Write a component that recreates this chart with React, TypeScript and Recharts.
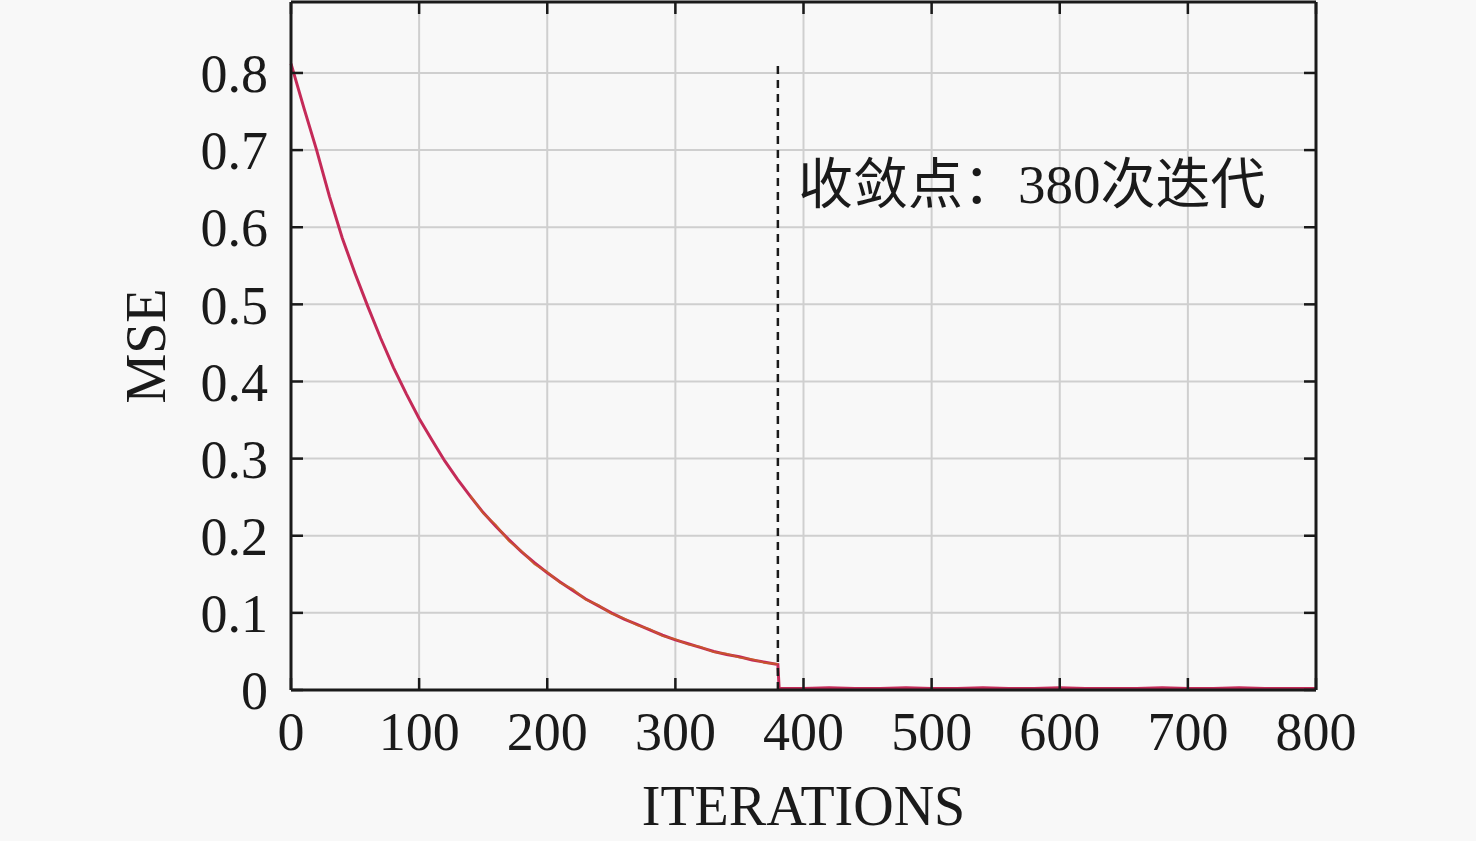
import React from 'react';
import {
    ComposedChart,
    Line,
    XAxis,
    YAxis,
    CartesianGrid,
    ReferenceLine,
    ReferenceDot,
} from 'recharts';

// iterations sampled from the curve
const iterations = [
    0, 10, 20, 30, 40, 50, 60, 70, 80, 90,
    100, 110, 120, 130, 140, 150, 160, 170, 180, 190,
    200, 210, 220, 230, 240, 250, 260, 270, 280, 290,
    300, 310, 320, 330, 340, 350, 360, 370, 380,
    381, 400, 420, 440, 460, 480, 500, 520, 540, 560, 580,
    600, 620, 640, 660, 680, 700, 720, 740, 760, 780, 800,
];

// MSE, red trace
const mseRed = [
    0.812, 0.755, 0.700, 0.640, 0.586, 0.540, 0.497, 0.456, 0.418, 0.384,
    0.352, 0.324, 0.297, 0.273, 0.251, 0.230, 0.212, 0.195, 0.179, 0.165,
    0.152, 0.140, 0.129, 0.118, 0.109, 0.100, 0.092, 0.085, 0.078, 0.071,
    0.065, 0.060, 0.055, 0.050, 0.046, 0.043, 0.039, 0.036, 0.033,
    0.002, 0.002, 0.003, 0.002, 0.002, 0.003, 0.002, 0.002, 0.003, 0.002, 0.002,
    0.003, 0.002, 0.002, 0.002, 0.003, 0.002, 0.002, 0.003, 0.002, 0.002, 0.002,
];

// MSE, orange trace: only shows through from about 140 to 380
const mseOrange = [
    null, null, null, null, null, null, null, null, null, null,
    null, null, null, null, 0.252, 0.229, 0.214, 0.193, 0.180, 0.163,
    0.153, 0.139, 0.131, 0.117, 0.110, 0.099, 0.093, 0.084, 0.079, 0.070,
    0.066, 0.059, 0.056, 0.049, 0.047, 0.042, 0.040, 0.035, 0.034,
    null, null, null, null, null, null, null, null, null, null, null,
    null, null, null, null, null, null, null, null, null, null, null,
];

const xTicks = [0, 100, 200, 300, 400, 500, 600, 700, 800];
const yTicks = [0, 0.1, 0.2, 0.3, 0.4, 0.5, 0.6, 0.7, 0.8];

const convergeAt = 380;
const convergeTop = 0.815;
const noteY = 0.657;
const noteText = '收敛点：380次迭代';

const data = iterations.map((it, i) => ({
    it,
    red: mseRed[i],
    orange: mseOrange[i],
}));

const serif = '"Liberation Serif", "Times New Roman", serif';
const ink = '#1a1a1a';
const tickStyle = { fontFamily: serif, fontSize: 54, fill: ink };
const axisLine = { stroke: ink, strokeWidth: 3 };
const tickLine = { stroke: ink, strokeWidth: 2.5 };
const noTick = () => <g />;

export default function App() {
    return (
        <div style={{ position: 'absolute', left: 0, top: 0, width: 1476, height: 841, background: '#f8f8f8' }}>
            <ComposedChart
                width={1476}
                height={841}
                data={data}
                margin={{ top: 1, right: 159, left: 0, bottom: 0 }}
            >
                <CartesianGrid stroke="#cfcfcf" strokeWidth={2} horizontalValues={yTicks} verticalValues={xTicks} />
                <XAxis
                    dataKey="it"
                    type="number"
                    domain={[0, 800]}
                    ticks={xTicks}
                    height={151}
                    tickSize={-12}
                    tickMargin={34}
                    tick={tickStyle}
                    axisLine={axisLine}
                    tickLine={tickLine}
                    label={{
                        value: 'ITERATIONS',
                        position: 'insideBottom',
                        offset: 16,
                        style: { fontFamily: serif, fontSize: 56, fill: ink },
                    }}
                />
                {/* mirrored frame on top and right, inward ticks, no labels */}
                <XAxis
                    xAxisId="top"
                    dataKey="it"
                    type="number"
                    orientation="top"
                    domain={[0, 800]}
                    ticks={xTicks}
                    height={1}
                    tickSize={-12}
                    tick={noTick}
                    axisLine={axisLine}
                    tickLine={tickLine}
                />
                <YAxis
                    type="number"
                    domain={[0, 0.892]}
                    ticks={yTicks}
                    width={291}
                    tickSize={-12}
                    tickMargin={35}
                    tick={tickStyle}
                    axisLine={axisLine}
                    tickLine={tickLine}
                    label={{
                        value: 'MSE',
                        angle: -90,
                        position: 'center',
                        style: { fontFamily: serif, fontSize: 56, fill: ink },
                    }}
                />
                <YAxis
                    yAxisId="right"
                    orientation="right"
                    type="number"
                    domain={[0, 0.892]}
                    ticks={yTicks}
                    width={1}
                    tickSize={-12}
                    tick={noTick}
                    axisLine={axisLine}
                    tickLine={tickLine}
                />
                <Line
                    dataKey="red"
                    type="linear"
                    stroke="#c42a58"
                    strokeWidth={3}
                    dot={false}
                    isAnimationActive={false}
                />
                <Line
                    xAxisId="top"
                    yAxisId="right"
                    dataKey="orange"
                    type="linear"
                    stroke="#c8641e"
                    strokeWidth={1.8}
                    strokeOpacity={0.75}
                    dot={false}
                    isAnimationActive={false}
                />
                <ReferenceLine
                    segment={[{ x: convergeAt, y: 0 }, { x: convergeAt, y: convergeTop }]}
                    stroke={ink}
                    strokeWidth={2.5}
                    strokeDasharray="8 6"
                />
                <ReferenceDot
                    x={convergeAt}
                    y={noteY}
                    r={0}
                    fill="none"
                    stroke="none"
                    label={{
                        value: noteText,
                        position: 'right',
                        offset: 20,
                        style: { fontFamily: '"Liberation Serif", "Noto Sans CJK SC", serif', fontSize: 55, fill: ink },
                    }}
                />
            </ComposedChart>
        </div>
    );
}
